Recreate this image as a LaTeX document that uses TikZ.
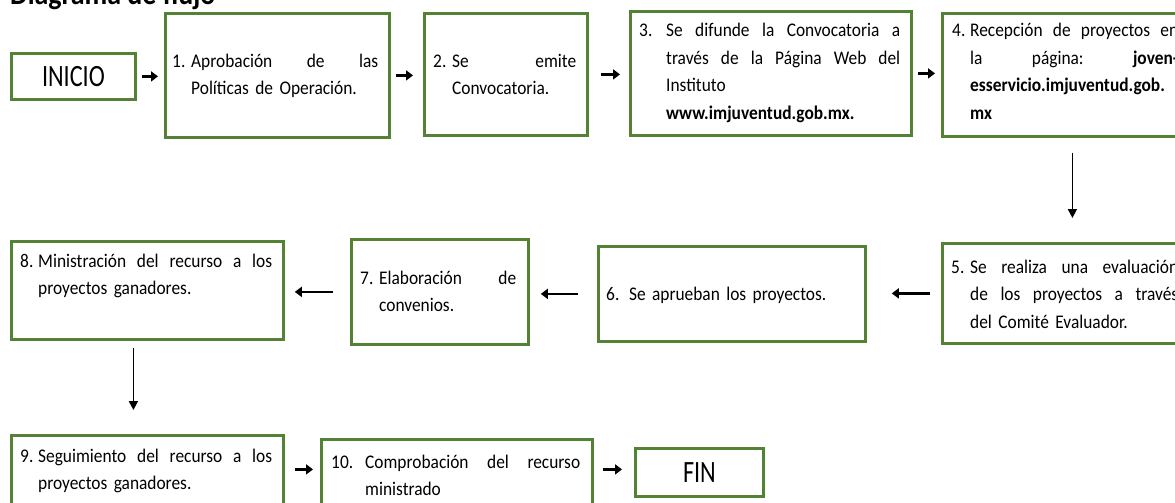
\documentclass[tikz,border=0pt]{standalone}
\usepackage{fontspec}
\setmainfont{Carlito}[FakeStretch=0.9]
\newfontfamily\condfont{Carlito}[FakeStretch=0.78]
\usetikzlibrary{arrows.meta}
\definecolor{boxgreen}{RGB}{84,130,53}
\newcommand\bodyfont{\fontsize{19.3pt}{27.5pt}\selectfont}
\newcommand\jst[2]{\makebox[#1][l]{#2}}
\begin{document}
\begin{tikzpicture}[x=1pt,y=-1pt,
  box/.style={draw=boxgreen, line width=2.8pt, inner sep=0pt, anchor=north west, fill=white},
  txt/.style={anchor=base west, inner sep=0pt, align=left, font=\bodyfont},
  endbox/.style={box, font=\condfont\fontsize{31pt}{31pt}\selectfont},
  harrow/.style={line width=2.8pt, -{Triangle[length=7pt,width=10pt]}},
  varrow/.style={line width=1.8pt, -{Triangle[length=9pt,width=9pt]}}]
\useasboundingbox (0,0) rectangle (1175,503);
\fill[white] (0,0) rectangle (1175,503);
% title (cut off at the top)
\node[anchor=base west, inner sep=0pt, font=\bfseries\fontsize{31pt}{32pt}\selectfont] (title) at (10,5) {Diagrama de flujo};
% boxes
\node[endbox, minimum width=124pt, minimum height=46pt] (inicio) at (10,52) {INICIO};
\node[box, minimum width=224pt, minimum height=124pt] (b1) at (164,12) {};
\node[box, minimum width=163pt, minimum height=122pt] (b2) at (423,12) {};
\node[box, minimum width=281pt, minimum height=124pt] (b3) at (629,10) {};
\node[box, minimum width=260pt, minimum height=123pt] (b4) at (941,12) {};
\node[box, minimum width=260pt, minimum height=100pt] (b5) at (941,242) {};
\node[box, minimum width=267pt, minimum height=95pt] (b6) at (597,245) {};
\node[box, minimum width=177pt, minimum height=105pt] (b7) at (350,238) {};
\node[box, minimum width=272pt, minimum height=98pt] (b8) at (10,240) {};
\node[box, minimum width=272pt, minimum height=90pt] (b9) at (10,434) {};
\node[box, minimum width=271pt, minimum height=90pt] (b10) at (320,438) {};
\node[endbox, minimum width=128pt, minimum height=48pt] (fin) at (634,447) {FIN};
% texts
\node[txt, text width=206pt] (t1) at (172,67)
  {\makebox[19pt][l]{1.}\jst{187pt}{Aprobación\hfill de\hfill las}\\
   \hspace*{19pt}Políticas de Operación.};
\node[txt, text width=143pt] (t2) at (433,67)
  {\makebox[19pt][l]{2.}\jst{124pt}{Se\hfill emite}\\
   \hspace*{19pt}Convocatoria.};
\node[txt, text width=261pt] (t3) at (639,37)
  {\makebox[27pt][l]{3.}\jst{234pt}{Se\hfill difunde\hfill la\hfill Convocatoria\hfill a}\\
   \hspace*{27pt}\jst{234pt}{través\hfill de\hfill la\hfill Página\hfill Web\hfill del}\\
   \hspace*{27pt}Instituto\\
   \hspace*{27pt}\textbf{www.imjuventud.gob.mx.}};
\node[txt, text width=226pt] (t4) at (952,37)
  {\makebox[18pt][l]{4.}\jst{208pt}{Recepción\hfill de\hfill proyectos\hfill en}\\
   \hspace*{18pt}\jst{208pt}{la\hfill página:\hfill\textbf{joven-}}\\
   \hspace*{18pt}\textbf{esservicio.imjuventud.gob.}\\
   \hspace*{18pt}\textbf{mx}};
\node[txt, text width=227pt] (t5) at (951,273)
  {\makebox[19pt][l]{5.}\jst{208pt}{Se\hfill realiza\hfill una\hfill evaluación}\\
   \hspace*{19pt}\jst{208pt}{de\hfill los\hfill proyectos\hfill a\hfill través}\\
   \hspace*{19pt}del Comité Evaluador.};
\node[txt, text width=250pt] (t6) at (606,300)
  {6. Se aprueban los proyectos.};
\node[txt, text width=156pt] (t7) at (360,284)
  {\makebox[19pt][l]{7.}\jst{137pt}{Elaboración\hfill de}\\
   \hspace*{19pt}convenios.};
\node[txt, text width=252pt] (t8) at (20,267)
  {\makebox[18pt][l]{8.}\jst{234pt}{Ministración\hfill del\hfill recurso\hfill a\hfill los}\\
   \hspace*{18pt}proyectos ganadores.};
\node[txt, text width=252pt] (t9) at (20,462)
  {\makebox[18pt][l]{9.}\jst{234pt}{Seguimiento\hfill del\hfill recurso\hfill a\hfill los}\\
   \hspace*{18pt}proyectos ganadores.};
\node[txt, text width=249pt] (t10) at (331,468)
  {\makebox[34pt][l]{10.}\jst{215pt}{Comprobación\hfill del\hfill recurso}\\
   \hspace*{34pt}ministrado};
% connectors
\draw[harrow] ([xshift=5pt]inicio.east) -- ([xshift=-6pt]inicio.east -| b1.west);
\draw[harrow] ([xshift=5pt]b1.east) -- ([xshift=-10pt]b1.east -| b2.west);
\draw[harrow] ([xshift=12pt]b2.east) -- ([xshift=-9pt]b2.east -| b3.west);
\draw[harrow] ([xshift=5pt]b3.east) -- ([xshift=-6pt]b3.east -| b4.west);
\draw[varrow] ([yshift=-15pt]b4.south) -- ([yshift=24pt]b4.south |- b5.north);
\draw[harrow] ([xshift=-11pt]b5.west) -- ([xshift=25pt]b5.west -| b6.east);
\draw[harrow] ([xshift=-19pt]b6.west) -- ([xshift=11pt]b6.west -| b7.east);
\draw[harrow] ([xshift=-17pt]b7.west) -- ([xshift=10pt]b7.west -| b8.east);
\draw[varrow] ([xshift=-14pt,yshift=-7pt]b8.south) -- ([xshift=-14pt,yshift=24pt]b8.south |- b9.north);
\draw[harrow] ([xshift=10pt,yshift=11pt]b9.east) -- ([xshift=-7pt,yshift=11pt]b9.east -| b10.west);
\draw[harrow] ([xshift=9pt,yshift=3pt]fin.west -| b10.east) -- ([xshift=-12pt,yshift=3pt]fin.west);
\end{tikzpicture}
\end{document}
